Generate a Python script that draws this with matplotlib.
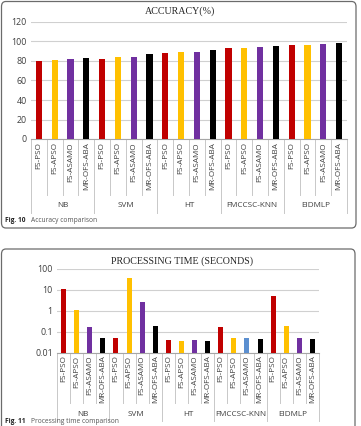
import matplotlib
matplotlib.use("Agg")
import matplotlib.pyplot as plt
from matplotlib.patches import FancyBboxPatch
import numpy as np

W, H = 361, 426

groups = ["NB", "SVM", "HT", "FMCCSC-KNN", "EIDMLP"]
methods = ["FS-PSO", "FS-APSO", "FS-ASAMO", "MR-OFS-ABA"]
method_colors = ["#C00000", "#FFC000", "#7030A0", "#000000"]

accuracy = [80, 80.8, 82.3, 83,
            82, 84, 84, 87,
            88.3, 89.3, 89.2, 90.8,
            92.9, 93.4, 94.5, 95.7,
            96.2, 96.6, 97.5, 98.3]

proc_time = [11.3, 1.08, 0.17, 0.048,
             0.048, 38, 2.7, 0.18,
             0.040, 0.037, 0.040, 0.037,
             0.17, 0.048, 0.049, 0.043,
             4.9, 0.19, 0.048, 0.044]
# bar colour override in the FMCCSC-KNN group of processing time
proc_colors = method_colors * 5
proc_colors[14] = "#5B8FD0"

acc_yticks = [0, 20, 40, 60, 80, 100, 120]
proc_yticks = [0.01, 0.1, 1, 10, 100]
proc_ylabels = ["0.01", "0.1", "1", "10", "100"]

fig = plt.figure(figsize=(W / 100, H / 100), dpi=100)


def px_rect(x0, y0, x1, y1):
    return [x0 / W, 1 - y1 / H, (x1 - x0) / W, (y1 - y0) / H]


# boxes
for (x0, y0, x1, y1) in [(1.5, 1.5, 356, 228), (1.5, 249, 355, 440)]:
    fig.patches.append(FancyBboxPatch((x0 / W, 1 - y1 / H), (x1 - x0) / W, (y1 - y0) / H,
                                      boxstyle="round,pad=0,rounding_size=0.012",
                                      transform=fig.transFigure, fill=False,
                                      edgecolor="#6b6b6b", linewidth=0.9))

sans = "Open Sans"
serif = "Liberation Serif"
tick_fs = 5.9
txt_col = "#404040"


def draw_chart(ax, values, colors, barw, ax_h_px, tick_depth_px, group_depth_px, group_label_px):
    n = len(values)
    x = np.arange(n)
    ax.set_xlim(-0.5, n - 0.5)
    ax.bar(x, values, width=barw, color=colors, zorder=3)
    for s in ["left", "right", "top"]:
        ax.spines[s].set_visible(False)
    ax.spines["bottom"].set_color("#a6a6a6")
    ax.spines["bottom"].set_linewidth(0.8)
    ax.set_xticks([])
    ax.tick_params(axis="y", length=0, labelsize=tick_fs + 0.5, labelcolor=txt_col, pad=3)
    for lab in ax.get_yticklabels():
        lab.set_fontfamily(sans)
    ax.yaxis.grid(True, color="#d0d0d0", linewidth=0.8, zorder=0)
    ax.set_axisbelow(True)
    tr = ax.get_xaxis_transform()
    d_tick = -tick_depth_px / ax_h_px
    d_group = -group_depth_px / ax_h_px
    for i in range(n):
        ax.text(x[i], -3 / ax_h_px, methods[i % 4], transform=tr, rotation=90,
                ha="center", va="top", fontsize=tick_fs, family=sans, color=txt_col)
    for i in range(n + 1):
        xb = i - 0.5
        bottom = d_group if i % 4 == 0 else d_tick
        ax.plot([xb, xb], [0, bottom], transform=tr, color="#c8c8c8",
                linewidth=0.7, clip_on=False)
    for g, name in enumerate(groups):
        ax.text(g * 4 + 1.5, -group_label_px / ax_h_px, name, transform=tr,
                ha="center", va="center", fontsize=tick_fs, family=sans, color=txt_col)


# Accuracy chart
ax1 = fig.add_axes(px_rect(31, 22, 347, 139))
ax1.set_ylim(0, 120)
ax1.set_yticks(acc_yticks)
draw_chart(ax1, accuracy, method_colors * 5, 0.4, 117, 56, 74, 66)
fig.text(180 / W, 1 - 11 / H, "ACCURACY(%)", ha="center", va="center",
         fontsize=7.2, family=serif, color="#262626")

# Processing time chart
ax2 = fig.add_axes(px_rect(57, 269, 319, 352.5))
ax2.set_yscale("log")
ax2.set_ylim(0.01, 100)
ax2.set_yticks(proc_yticks)
ax2.set_yticklabels(proc_ylabels)
ax2.yaxis.set_minor_locator(matplotlib.ticker.NullLocator())
draw_chart(ax2, proc_time, proc_colors, 0.38, 83.5, 50, 68, 62)
fig.text(182 / W, 1 - 261 / H, "PROCESSING TIME (SECONDS)", ha="center", va="center",
         fontsize=7.2, family=serif, color="#262626")

# captions
fig.text(5 / W, 1 - 220 / H, "Fig. 10", ha="left", va="center", fontsize=4.8,
         family=sans, weight="bold", color="#222222")
fig.text(31 / W, 1 - 220 / H, "Accuracy comparison", ha="left", va="center", fontsize=4.8,
         family=sans, color="#555555")
fig.text(5 / W, 1 - 421.5 / H, "Fig. 11", ha="left", va="center", fontsize=4.8,
         family=sans, weight="bold", color="#222222")
fig.text(31 / W, 1 - 421.5 / H, "Processing time comparison", ha="left", va="center",
         fontsize=4.8, family=sans, color="#555555")

fig.savefig("out.png", dpi=100)
